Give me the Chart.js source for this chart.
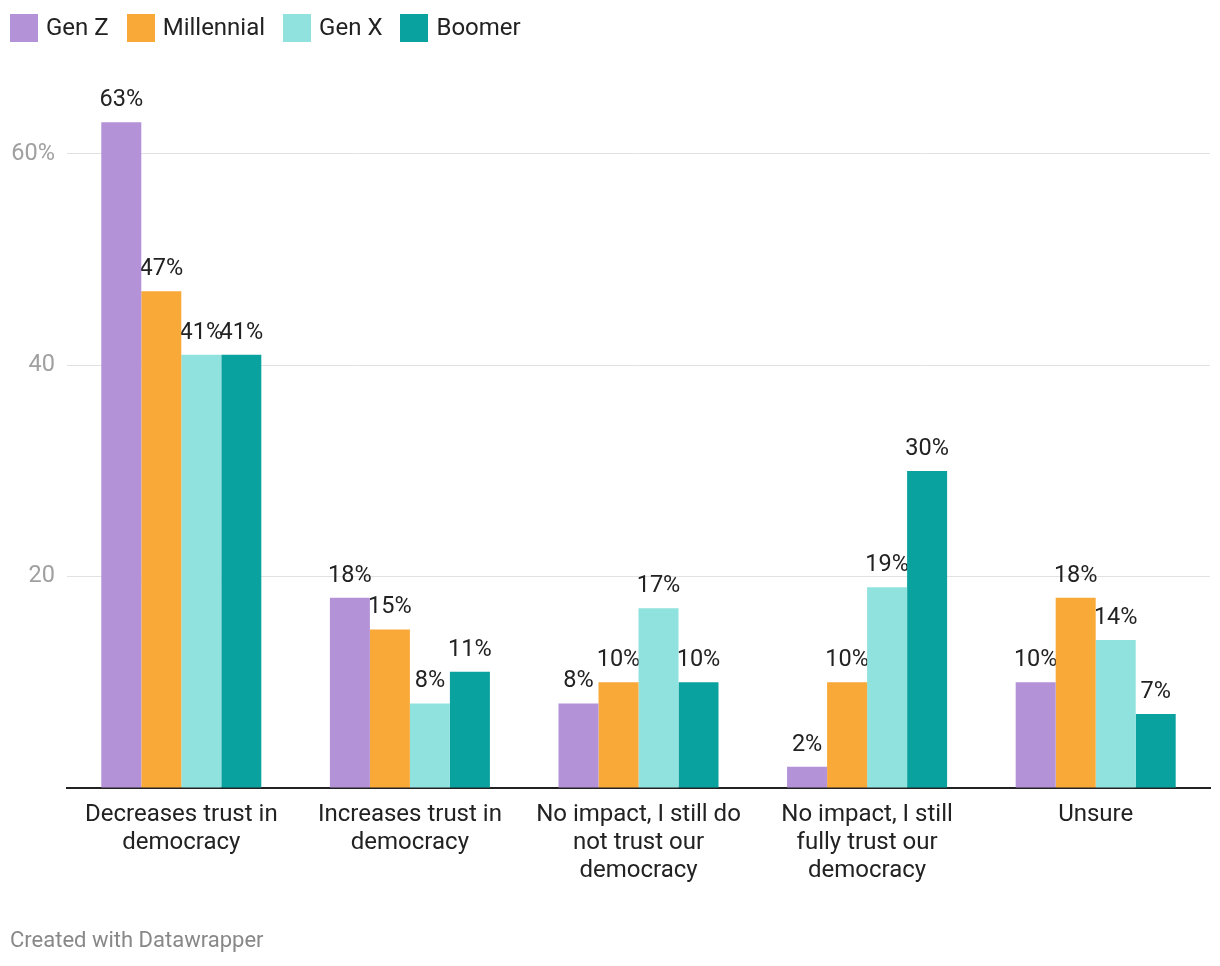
<!DOCTYPE html>
<html>
<head>
<meta charset="utf-8">
<script src="https://cdn.jsdelivr.net/npm/chart.js@4"></script>
<style>
  body { margin: 0; background: #fff; font-family: Roboto, sans-serif; }
  #wrap { position: relative; width: 1220px; height: 966px; }
  #legend { position: absolute; left: 10px; top: 14px; display: flex; gap: 18px; font-size: 24px; color: #222; }
  #legend span.item { display: flex; align-items: center; height: 28px; line-height: 24px; }
  #legend i { display: inline-block; width: 28px; height: 28px; margin-right: 8px; }
  #footer { position: absolute; left: 10px; top: 927px; font-size: 22px; color: #888; }
  canvas { position: absolute; left: 0; top: 0; }
</style>
</head>
<body>
<div id="wrap">
  <canvas id="chart" width="1220" height="966"></canvas>
  <div id="legend"></div>
  <div id="footer">Created with Datawrapper</div>
</div>
<script>
const categories = [
    ["Decreases trust in", "democracy"],
    ["Increases trust in", "democracy"],
    ["No impact, I still do", "not trust our", "democracy"],
    ["No impact, I still", "fully trust our", "democracy"],
    ["Unsure"],
];
const seriesNames = ["Gen Z", "Millennial", "Gen X", "Boomer"];
const genZ = [63, 18, 8, 2, 10];
const millennial = [47, 15, 10, 10, 18];
const genX = [41, 8, 17, 19, 14];
const boomer = [41, 11, 10, 30, 7];
const yTicks = [0, 20, 40, 60];
const colors = ["#b392d8", "#f9a938", "#8fe2dd", "#0aa29e"];

const legend = document.getElementById("legend");
seriesNames.forEach(function (name, i) {
    const s = document.createElement("span");
    s.className = "item";
    s.innerHTML = '<i style="background:' + colors[i] + '"></i><span style="margin-top:-3px">' + name + '</span>';
    legend.appendChild(s);
});

// value labels, drawn before the bars like the original
const valueLabels = {
    id: "valueLabels",
    beforeDatasetsDraw(chart) {
        const ctx = chart.ctx;
        ctx.save();
        ctx.font = "23.5px Roboto";
        ctx.fillStyle = "#222";
        ctx.textAlign = "center";
        ctx.textBaseline = "alphabetic";
        chart.data.datasets.forEach(function (ds, i) {
            chart.getDatasetMeta(i).data.forEach(function (bar, j) {
                ctx.fillText(ds.data[j] + "%", bar.x, bar.y - 16);
            });
        });
        ctx.restore();
    },
};

const allSeries = [genZ, millennial, genX, boomer];
new Chart(document.getElementById("chart").getContext("2d"), {
    type: "bar",
    data: {
        labels: categories,
        datasets: allSeries.map(function (d, i) {
            return {
                label: seriesNames[i],
                data: d,
                backgroundColor: colors[i],
                categoryPercentage: 0.7,
                barPercentage: 1.0,
            };
        }),
    },
    options: {
        responsive: false,
        animation: false,
        layout: { padding: { top: 101, right: 10, bottom: 48, left: 0 } },
        plugins: { legend: { display: false }, tooltip: { enabled: false } },
        scales: {
            x: {
                grid: { display: false },
                border: { color: "#222", width: 2 },
                ticks: {
                    color: "#222",
                    font: { family: "Roboto", size: 24, lineHeight: 1.167 },
                    padding: 5,
                    maxRotation: 0,
                    autoSkip: false,
                },
                afterFit(scale) { scale.height = 130; },
            },
            y: {
                min: 0,
                max: 65,
                border: { display: false },
                grid: { color: "#e2e2e2", lineWidth: 1, drawTicks: false },
                afterBuildTicks(scale) {
                    scale.ticks = yTicks.map(function (v) { return { value: v }; });
                },
                ticks: {
                    color: "#a0a0a0",
                    font: { family: "Roboto", size: 23.5 },
                    padding: 12,
                    callback: function (v) {
                        if (v === 0) return "";
                        return v === 60 ? v + "%" : String(v);
                    },
                },
                afterFit(scale) { scale.width = 67; },
            },
        },
    },
    plugins: [valueLabels],
});
</script>
</body>
</html>
